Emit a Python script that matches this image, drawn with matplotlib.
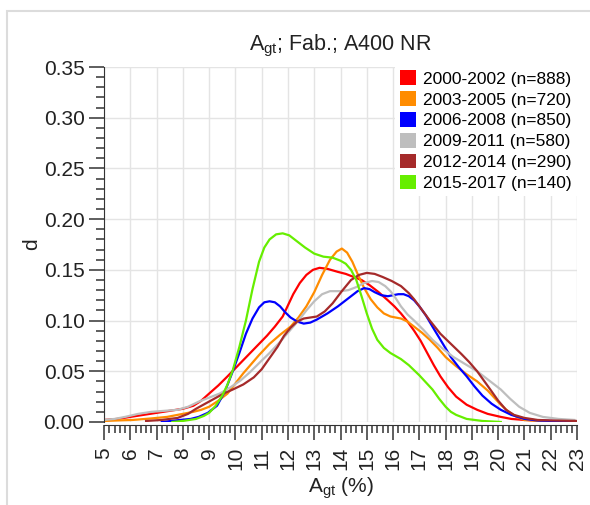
#Density curves of Agt per production period
import numpy as np
from matplotlib import pyplot as plt
from matplotlib.patches import Patch, Rectangle
from matplotlib.ticker import MultipleLocator

plt.rcParams['font.family'] = ['Liberation Sans', 'DejaVu Sans']
plt.rcParams['mathtext.default'] = 'regular'

#Legend labels and line colours
labels = ['2000-2002 (n=888)', '2003-2005 (n=720)', '2006-2008 (n=850)',
          '2009-2011 (n=580)', '2012-2014 (n=290)', '2015-2017 (n=140)']
colors = ['#ff0000', '#ff8c00', '#0000ff', '#bebebe', '#a52a2a', '#66ee00']

#Values (x = Agt in %, d = density)
x_red = [5.0, 5.5, 6.0, 6.5, 7.0, 7.5, 8.0, 8.4, 8.7, 9.0, 9.35, 9.7, 10.0, 10.3, 10.6, 10.9,
         11.2, 11.5, 11.8, 12.0, 12.2, 12.45, 12.7, 12.95, 13.2, 13.5, 13.9, 14.2, 14.5, 14.8,
         15.1, 15.45, 15.8, 16.05, 16.3, 16.55, 16.8, 17.05, 17.3, 17.55, 17.8, 18.1, 18.4,
         18.8, 19.2, 19.6, 20.1, 20.5, 21.0, 22.0, 23.0]
d_red = [0.002, 0.003, 0.005, 0.007, 0.009, 0.011, 0.013, 0.016, 0.021, 0.028, 0.036, 0.045,
         0.053, 0.061, 0.069, 0.077, 0.085, 0.094, 0.104, 0.115, 0.126, 0.137, 0.145, 0.150,
         0.152, 0.151, 0.148, 0.146, 0.143, 0.140, 0.135, 0.128, 0.120, 0.114, 0.107, 0.099,
         0.090, 0.080, 0.068, 0.056, 0.045, 0.034, 0.025, 0.017, 0.012, 0.008, 0.005, 0.003,
         0.002, 0.001, 0.0005]

x_orange = [5.0, 5.5, 6.1, 6.8, 7.4, 8.0, 8.4, 8.7, 9.0, 9.35, 9.7, 10.0, 10.3, 10.6, 10.9,
            11.3, 11.7, 12.1, 12.4, 12.7, 13.0, 13.3, 13.6, 13.85, 14.05, 14.25, 14.45, 14.65,
            14.9, 15.15, 15.4, 15.65, 15.9, 16.1, 16.3, 16.55, 16.8, 17.1, 17.4, 17.7, 18.0,
            18.4, 18.8, 19.2, 19.6, 19.85, 20.1, 20.4, 20.7, 21.0, 21.5, 22.0, 23.0]
d_orange = [0.001, 0.0015, 0.002, 0.0035, 0.005, 0.008, 0.010, 0.012, 0.015, 0.021, 0.028,
            0.038, 0.048, 0.057, 0.066, 0.077, 0.086, 0.094, 0.103, 0.114, 0.128, 0.145, 0.160,
            0.168, 0.171, 0.167, 0.158, 0.146, 0.132, 0.121, 0.113, 0.107, 0.104, 0.103, 0.102,
            0.099, 0.094, 0.088, 0.081, 0.073, 0.064, 0.055, 0.047, 0.040, 0.031, 0.024, 0.017,
            0.010, 0.005, 0.002, 0.001, 0.0005, 0.0]

x_blue = [7.2, 7.9, 8.3, 8.6, 8.95, 9.3, 9.6, 9.9, 10.15, 10.4, 10.65, 10.9, 11.1, 11.3, 11.5,
          11.7, 11.9, 12.1, 12.35, 12.6, 12.85, 13.1, 13.5, 13.9, 14.15, 14.4, 14.65, 14.9,
          15.1, 15.3, 15.55, 15.8, 16.0, 16.2, 16.4, 16.6, 16.8, 17.0, 17.25, 17.5, 17.85,
          18.2, 18.5, 18.8, 19.1, 19.4, 19.75, 20.1, 20.5, 21.0, 21.5, 22.0, 23.0]
d_blue = [0.0, 0.002, 0.003, 0.005, 0.009, 0.016, 0.030, 0.050, 0.068, 0.087, 0.102, 0.113,
          0.118, 0.119, 0.118, 0.114, 0.108, 0.103, 0.099, 0.097, 0.098, 0.101, 0.107, 0.114,
          0.119, 0.124, 0.129, 0.132, 0.131, 0.128, 0.125, 0.124, 0.125, 0.126, 0.126, 0.124,
          0.120, 0.114, 0.105, 0.094, 0.079, 0.064, 0.054, 0.045, 0.035, 0.026, 0.018, 0.012,
          0.007, 0.003, 0.0015, 0.001, 0.0005]

x_gray = [5.0, 5.4, 5.8, 6.3, 6.8, 7.3, 7.8, 8.2, 8.6, 9.0, 9.4, 9.8, 10.2, 10.55, 10.9, 11.3,
          11.7, 12.1, 12.4, 12.7, 13.0, 13.3, 13.6, 14.0, 14.3, 14.6, 14.9, 15.2, 15.45, 15.7,
          15.9, 16.1, 16.3, 16.55, 16.8, 17.15, 17.5, 17.9, 18.3, 18.75, 19.2, 19.6, 20.1,
          20.45, 20.8, 21.2, 21.7, 22.3, 22.9]
d_gray = [0.002, 0.003, 0.005, 0.008, 0.010, 0.011, 0.012, 0.015, 0.020, 0.024, 0.028, 0.034,
          0.041, 0.049, 0.058, 0.068, 0.079, 0.091, 0.100, 0.110, 0.119, 0.126, 0.129, 0.129,
          0.130, 0.133, 0.137, 0.139, 0.138, 0.134, 0.129, 0.122, 0.114, 0.106, 0.100, 0.091,
          0.081, 0.072, 0.064, 0.057, 0.050, 0.042, 0.032, 0.023, 0.015, 0.009, 0.005, 0.003,
          0.002]

x_brown = [6.6, 7.2, 7.8, 8.2, 8.5, 8.85, 9.2, 9.55, 9.9, 10.3, 10.7, 11.0, 11.3, 11.6, 11.85,
           12.1, 12.35, 12.6, 12.85, 13.1, 13.4, 13.7, 14.05, 14.4, 14.7, 15.0, 15.3, 15.6,
           15.95, 16.3, 16.6, 16.8, 17.0, 17.4, 17.8, 18.2, 18.6, 18.9, 19.2, 19.45, 19.7, 20.0,
           20.3, 20.6, 21.0, 21.5, 22.0, 23.0]
d_brown = [0.001, 0.002, 0.004, 0.008, 0.013, 0.018, 0.023, 0.028, 0.032, 0.037, 0.044, 0.052,
           0.063, 0.074, 0.085, 0.093, 0.099, 0.102, 0.103, 0.104, 0.109, 0.117, 0.129, 0.140,
           0.145, 0.147, 0.146, 0.143, 0.139, 0.134, 0.127, 0.121, 0.114, 0.100, 0.087, 0.077,
           0.067, 0.059, 0.050, 0.041, 0.032, 0.021, 0.012, 0.007, 0.004, 0.002, 0.0015, 0.001]

x_green = [7.6, 8.0, 8.5, 8.8, 9.0, 9.25, 9.5, 9.7, 9.9, 10.15, 10.4, 10.65, 10.9, 11.1, 11.3,
           11.55, 11.8, 12.05, 12.3, 12.65, 13.0, 13.35, 13.7, 14.0, 14.2, 14.4, 14.6, 14.8,
           15.0, 15.2, 15.4, 15.65, 15.9, 16.3, 16.6, 16.8, 17.0, 17.25, 17.5, 17.75, 18.0,
           18.2, 18.4, 18.8, 19.4, 20.1]
d_green = [0.0, 0.001, 0.003, 0.006, 0.009, 0.016, 0.026, 0.037, 0.051, 0.074, 0.100, 0.131,
           0.158, 0.172, 0.180, 0.185, 0.186, 0.184, 0.179, 0.172, 0.166, 0.163, 0.162, 0.159,
           0.156, 0.150, 0.140, 0.124, 0.107, 0.092, 0.081, 0.073, 0.068, 0.062, 0.056, 0.051,
           0.046, 0.039, 0.032, 0.023, 0.015, 0.010, 0.007, 0.003, 0.001, 0.0]

series_x = [x_red, x_orange, x_blue, x_gray, x_brown, x_green]
series_d = [d_red, d_orange, d_blue, d_gray, d_brown, d_green]

fig = plt.figure(figsize=(5.9, 5.05), dpi=100)
ax = fig.add_axes([0.1763, 0.1644, 0.8017, 0.7029])

#Light frame around the whole picture
fig.add_artist(Rectangle((0.012, -0.1), 1.2, 1.079, transform=fig.transFigure,
                         fill=False, edgecolor='#dcdcdc', linewidth=1.5))

for xs, ds, c in zip(series_x, series_d, colors):
    ax.plot(xs, ds, color=c, linewidth=1.6, solid_joinstyle='round')

ax.set_xlim(5, 23)
ax.set_ylim(0, 0.35)
ax.xaxis.set_major_locator(MultipleLocator(1))
ax.xaxis.set_minor_locator(MultipleLocator(0.2))
ax.yaxis.set_major_locator(MultipleLocator(0.05))
ax.yaxis.set_minor_locator(MultipleLocator(0.01))
ax.yaxis.set_major_formatter(plt.FormatStrFormatter('%.2f'))

ax.grid(True, which='major', color='#e4e4e4', linewidth=1)
ax.set_axisbelow(True)

for s in ['top', 'right']:
    ax.spines[s].set_visible(False)
ax.spines['bottom'].set_position(('outward', 2))
ax.spines['left'].set_color('#333333')
ax.spines['bottom'].set_color('#333333')

ax.tick_params(axis='both', which='major', length=11, width=1.1, color='#333333',
               labelsize=15, labelcolor='#222222')
ax.tick_params(axis='both', which='minor', length=6, width=1.1, color='#333333')
ax.tick_params(axis='y', pad=3)
ax.tick_params(axis='x', pad=5, labelrotation=90)

ax.set_title('A$_{gt}$; Fab.; A400 NR', fontsize=15.5, pad=12, color='#222222')
ax.set_ylabel('d', fontsize=15, color='#222222', labelpad=2)
ax.set_xlabel('A$_{gt}$ (%)', fontsize=15, color='#222222', labelpad=4)

handles = [Patch(facecolor=c, edgecolor='none') for c in colors]
leg = ax.legend(handles, labels, loc='upper right', bbox_to_anchor=(1.0, 1.005),
                fontsize=12.5, frameon=True, facecolor='white', edgecolor='none',
                framealpha=1, fancybox=False, handlelength=0.92, handleheight=0.92,
                handletextpad=0.4, labelspacing=0.26, borderpad=0.3, borderaxespad=0)

fig.savefig('out.png', dpi=100)
